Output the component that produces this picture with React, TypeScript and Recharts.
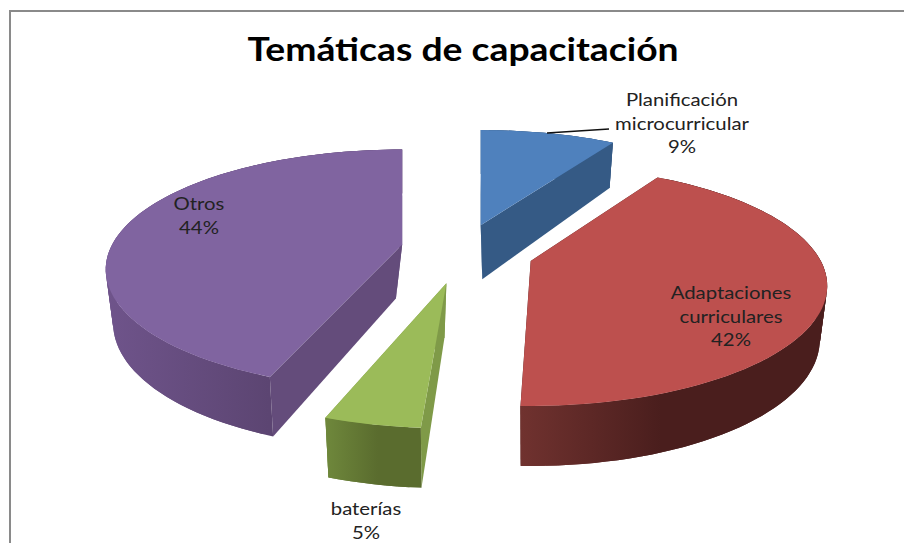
import React from "react";
import { PieChart, Pie } from "recharts";

const categories = ["Planificación microcurricular", "Adaptaciones curriculares", "baterías", "Otros"];
const shares = [9, 42, 5, 44];

const topColors = ["#4f81bd", "#bd504e", "#9bbb59", "#8064a0"];
const wallColors = ["#355a85", "#4a1e1d", "#7f9a48", "#644c7b"];
const sideFrom = ["#355a85", "#70322f", "#6f883c", "#6f548b"];
const sideTo = ["#355a85", "#4a1e1d", "#5a6c2e", "#5c4572"];

const labelLines = [
  ["Planificación", "microcurricular"],
  ["Adaptaciones", "curriculares"],
  ["baterías"],
  ["Otros"],
];
// label centre and first baseline, relative to the pie centre
const labelOffsets = [
  { dx: 217, dy: -146 },
  { dx: 266, dy: 47 },
  { dx: -99, dy: 263 },
  { dx: -266, dy: -42 },
];
// hand nudges: the original's fake 3D is not a clean projection
const apexNudge = [
  { x: -3, y: 1 },
  { x: 2, y: 0 },
  { x: -4, y: 3 },
  { x: 3, y: -2 },
];
const sweepNudge = [
  { start: 0, end: 0 },
  { start: -1.4, end: -2 },
  { start: 0.4, end: -2 },
  { start: 0, end: 0 },
];

const WIDTH = 904;
const HEIGHT = 543;
const CX = 465;
const CY = 252;
const RADIUS = 290;

// perspective of the tilted disc
const SQUASH = 0.396;
const PERSP = 0.208;
const EXPLODE_X = 67;
const EXPLODE_Y = 29;
const BASE_SHRINK = 0.975;
const TEXT_STRETCH = 1.13;

const rad = (d: number) => (d * Math.PI) / 180;

function Slice3D(props: any) {
  const { cx, cy, outerRadius, index } = props;
  const startAngle = props.startAngle - sweepNudge[index].start;
  const endAngle = props.endAngle - sweepNudge[index].end;
  const mid = (props.startAngle + props.endAngle) / 2;
  const ax = cx + EXPLODE_X * Math.cos(rad(mid)) + apexNudge[index].x;
  const ay = cy - EXPLODE_Y * Math.sin(rad(mid)) + apexNudge[index].y;
  const baseAx = ax + (ax - cx) * 0.1;

  const project = (deg: number) => {
    const u = Math.cos(rad(deg));
    const v = Math.sin(rad(deg));
    const w = 1 + PERSP * v;
    const rx = (outerRadius * u) / w;
    const ry = (outerRadius * SQUASH * v) / w;
    const depth = 52 - 8 * v;
    return {
      x: ax + rx,
      y: ay - ry,
      bx: ax + rx * BASE_SHRINK,
      by: ay - ry + depth,
    };
  };

  const steps = Math.max(2, Math.ceil(Math.abs(startAngle - endAngle) / 2));
  const rim = Array.from({ length: steps + 1 }, (_, i) =>
    project(startAngle + ((endAngle - startAngle) * i) / steps)
  );
  const first = rim[0];
  const last = rim[rim.length - 1];

  const topPath =
    `M${ax},${ay} ` + rim.map((p) => `L${p.x},${p.y}`).join(" ") + " Z";
  const wall = (p: { x: number; y: number; bx: number; by: number }) =>
    `M${ax},${ay} L${p.x},${p.y} L${p.bx},${p.by} L${baseAx},${ay + 54} Z`;

  const xs = rim.map((p) => p.x);
  const minX = Math.min(...xs);
  const maxX = Math.max(...xs);
  const gradId = `side-${index}`;
  // the shading runs out about half way along the visible rim
  const gradStart = index === 1 ? ax - 10 : minX;
  const gradEnd = index === 1 ? ax + 130 : minX + (maxX - minX) * 0.55;

  return (
    <g>
      <defs>
        <linearGradient id={gradId} gradientUnits="userSpaceOnUse" x1={gradStart} x2={gradEnd} y1={0} y2={0}>
          <stop offset="0%" stopColor={sideFrom[index]} />
          <stop offset="100%" stopColor={sideTo[index]} />
        </linearGradient>
      </defs>
      <path d={wall(first)} fill={wallColors[index]} />
      <path d={wall(last)} fill={wallColors[index]} />
      {/* rim wall as overlapping quads: fills the silhouette and leaves no seams */}
      {rim.slice(1).map((p, i) => {
        const q = rim[i];
        const n = rim[Math.min(i + 2, rim.length - 1)];
        return (
          <path
            key={i}
            d={`M${q.x},${q.y} L${p.x},${p.y} L${n.x},${n.y} L${n.bx},${n.by} L${p.bx},${p.by} L${q.bx},${q.by} Z`}
            fill={`url(#${gradId})`}
          />
        );
      })}
      <path d={topPath} fill={topColors[index]} />
    </g>
  );
}

function SliceLabel(props: any) {
  const { cx, cy, index } = props;
  const off = labelOffsets[index];
  const lines = [...labelLines[index], `${shares[index]}%`];
  return (
    <g>
      {index === 0 && <line x1={cx + 82} y1={cy - 119} x2={cx + 144} y2={cy - 123} stroke="#111" strokeWidth={1.6} />}
      <text
        transform={`translate(${cx + off.dx} ${cy + off.dy}) scale(${TEXT_STRETCH} 1)`}
        textAnchor="middle"
        fontFamily="Lato"
        fontSize={18}
        fill="#222"
      >
        {lines.map((t, i) => (
          <tspan key={t} x={0} dy={i === 0 ? 0 : 23.7}>
            {t}
          </tspan>
        ))}
      </text>
    </g>
  );
}

const tableData = categories.map((name, i) => ({ name, value: shares[i] }));

export default function App() {
  return (
    <div style={{ position: "absolute", left: 0, top: 0, width: WIDTH, height: HEIGHT, background: "#fff", overflow: "hidden" }}>
      <div style={{ position: "absolute", left: 9, top: 10, width: WIDTH, height: HEIGHT, borderLeft: "2px solid #8a8a8a", borderTop: "2px solid #8a8a8a" }} />
      <div style={{ position: "absolute", left: 0, top: 0 }}>
        <PieChart width={WIDTH} height={HEIGHT} margin={{ top: 0, right: 0, bottom: 0, left: 0 }}>
          <text
            transform={`translate(463 61) scale(${TEXT_STRETCH} 1)`}
            textAnchor="middle"
            fontFamily="Lato"
            fontWeight={700}
            fontSize={33}
            fill="#000"
          >
            Temáticas de capacitación
          </text>
          <Pie
            data={tableData}
            dataKey="value"
            nameKey="name"
            cx={CX}
            cy={CY}
            innerRadius={0}
            outerRadius={RADIUS}
            startAngle={90}
            endAngle={-270}
            paddingAngle={0}
            stroke="none"
            shape={Slice3D}
            label={SliceLabel}
            labelLine={false}
            isAnimationActive={false}
          />
        </PieChart>
      </div>
    </div>
  );
}
